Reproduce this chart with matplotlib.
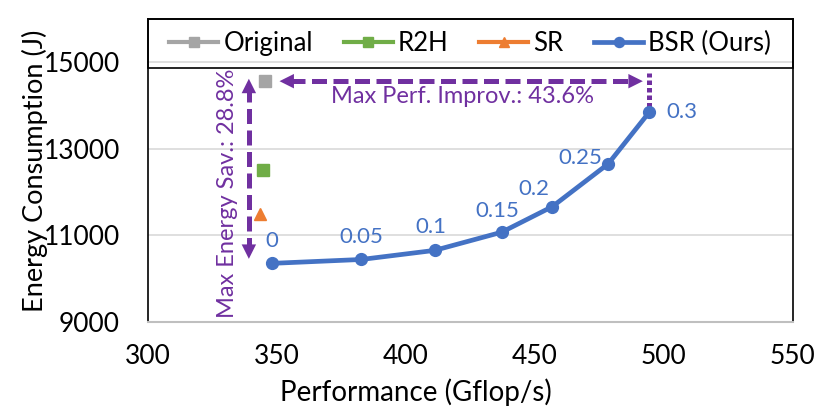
import matplotlib
matplotlib.use("Agg")
import matplotlib.pyplot as plt
from matplotlib.patches import Rectangle

plt.rcParams['font.family'] = ['Lato', 'DejaVu Sans']

# data
orig_perf, orig_energy = [345.5], [14560]
r2h_perf, r2h_energy = [344.7], [12500]
sr_perf, sr_energy = [343.6], [11500]

bsr_perf = [348.1, 382.8, 411.2, 437.2, 456.8, 478.5, 494.5]
bsr_energy = [10350, 10440, 10650, 11070, 11660, 12650, 13850]
bsr_labels = ['0', '0.05', '0.1', '0.15', '0.2', '0.25', '0.3']

perf_text = 'Max Perf. Improv.: 43.6%'
energy_text = 'Max Energy Sav.: 28.8%'

gray = '#A5A5A5'
green = '#70AD47'
orange = '#ED7D31'
blue = '#4472C4'
purple = '#7030A0'

fig = plt.figure(figsize=(8.3, 4.19), dpi=100)
ax = fig.add_axes([0.178, 0.232, 0.777, 0.723])

ax.plot(orig_perf, orig_energy, '-s', color=gray, ms=8.5, lw=3, label='Original', zorder=3)
ax.plot(r2h_perf, r2h_energy, '-s', color=green, ms=8.5, lw=3, label='R2H', zorder=3)
ax.plot(sr_perf, sr_energy, '-^', color=orange, ms=8.5, lw=3, label='SR', zorder=3)
ax.plot(bsr_perf, bsr_energy, '-o', color=blue, ms=8.5, lw=3.4, label='BSR (Ours)', zorder=4)

# label offsets (points) for each BSR point
offs = [(0, 16), (0, 16), (-3, 17), (-3, 15), (-13, 13), (-20, 4), (23, 0)]
for x, y, t, o in zip(bsr_perf, bsr_energy, bsr_labels, offs):
    ax.annotate(t, (x, y), xytext=o, textcoords='offset points',
                ha='center', va='center', color=blue, fontsize=16)

# horizontal arrow (perf improvement)
y_arr = orig_energy[0]
x0, x1 = orig_perf[0] + 4.5, bsr_perf[-1] - 1.5
dash = (0, (3, 1.3))
ax.plot([x0 + 5, x1 - 5], [y_arr, y_arr], color=purple, lw=3.6, ls=dash, zorder=2)
ax.annotate('', xy=(x0, y_arr), xytext=(x0 + 6, y_arr),
            arrowprops=dict(arrowstyle='-|>', color=purple, lw=0, mutation_scale=26))
ax.annotate('', xy=(x1, y_arr), xytext=(x1 - 6, y_arr),
            arrowprops=dict(arrowstyle='-|>', color=purple, lw=0, mutation_scale=26))
ax.plot([bsr_perf[-1], bsr_perf[-1]], [bsr_energy[-1] + 120, 14760], color=purple,
        lw=3.6, ls=(0, (0.9, 0.6)), zorder=2)
ax.text(422, 14200, perf_text, color=purple, fontsize=17, ha='center', va='center')

# vertical arrow (energy saving)
x_v = 339.2
ya, yb = 14680, 10390
ax.plot([x_v, x_v], [ya - 250, yb + 250], color=purple, lw=3.6, ls=dash, zorder=2)
ax.annotate('', xy=(x_v, ya), xytext=(x_v, ya - 300),
            arrowprops=dict(arrowstyle='-|>', color=purple, lw=0, mutation_scale=26))
ax.annotate('', xy=(x_v, yb), xytext=(x_v, yb + 300),
            arrowprops=dict(arrowstyle='-|>', color=purple, lw=0, mutation_scale=26))
ax.text(331, 11960, energy_text, color=purple, fontsize=17, rotation=90,
        ha='center', va='center')

ax.set_xlim(300, 550)
ax.set_ylim(9000, 16000)
ax.set_xticks([300, 350, 400, 450, 500, 550])
ax.set_yticks([9000, 11000, 13000, 15000])
ax.tick_params(axis='x', length=0, labelsize=19, pad=16)
ax.tick_params(axis='y', length=0, labelsize=19, pad=20)
ax.grid(axis='y', color='#D9D9D9', lw=1.2, zorder=0)
ax.set_axisbelow(True)
for s in ['left', 'right', 'top']:
    ax.spines[s].set_color('black')
    ax.spines[s].set_linewidth(1.2)
ax.spines['bottom'].set_color('#BFBFBF')
ax.spines['bottom'].set_linewidth(1.5)

ax.set_xlabel('Performance (Gflop/s)', fontsize=20)
ax.xaxis.set_label_coords(0.415, -0.232)
ax.xaxis.label.set_va('center')
ax.set_ylabel('Energy Consumption (J)', fontsize=19.5, labelpad=-3)

# legend box across the top of the plot
ax.add_patch(Rectangle((0, 0.838), 1, 0.162, transform=ax.transAxes, fill=False,
                       edgecolor='black', lw=1.2, zorder=5, clip_on=False))
ax.legend(loc='center', bbox_to_anchor=(0, 0.838, 1, 0.162), ncol=4, frameon=False,
          fontsize=18.5, handlelength=1.9, handletextpad=0.2, columnspacing=1.2,
          borderaxespad=0, markerscale=0.85)

fig.savefig('out.png', dpi=100)
